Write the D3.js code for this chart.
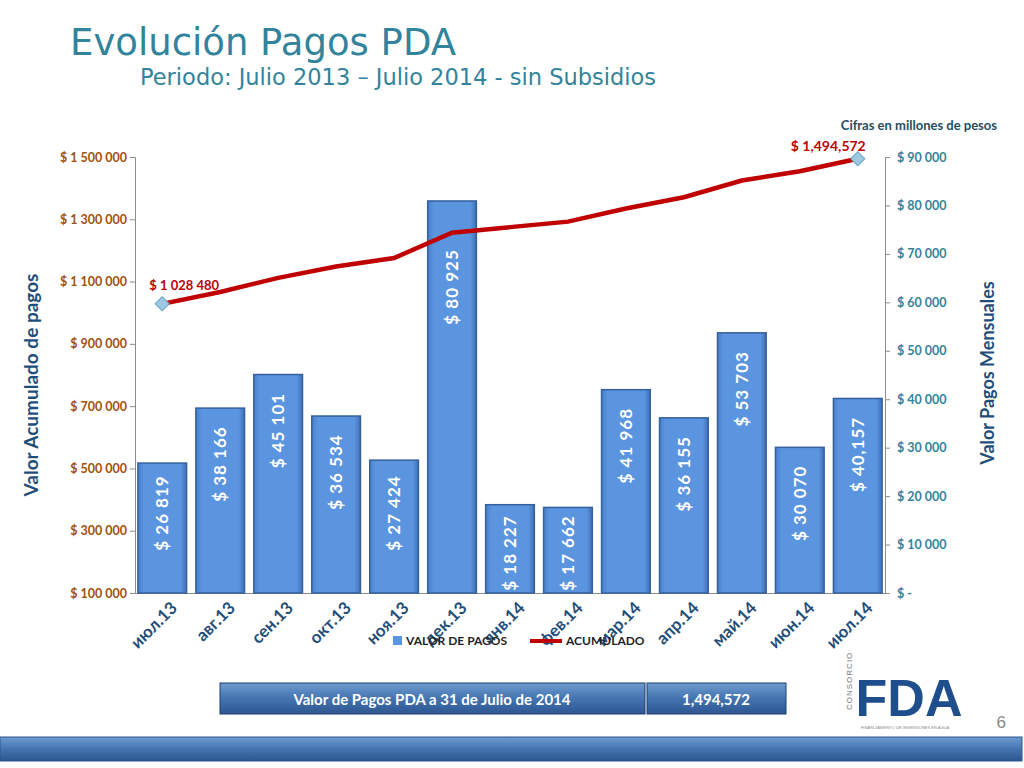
<!DOCTYPE html>
<html>
<head>
<meta charset="utf-8">
<script src="https://cdn.jsdelivr.net/npm/d3@7"></script>
<style>
  body { margin: 0; background: #fff; }
  svg { display: block; }
</style>
</head>
<body>
<div id="chart"></div>
<script>
// Data
const months = ["июл.13", "авг.13", "сен.13", "окт.13", "ноя.13", "дек.13", "янв.14",
  "фев.14", "мар.14", "апр.14", "май.14", "июн.14", "июл.14"];
const pagos = [26819, 38166, 45101, 36534, 27424, 80925, 18227, 17662, 41968, 36155, 53703, 30070, 40157];
const pagosLabels = ["$ 26 819", "$ 38 166", "$ 45 101", "$ 36 534", "$ 27 424", "$ 80 925", "$ 18 227",
  "$ 17 662", "$ 41 968", "$ 36 155", "$ 53 703", "$ 30 070", "$ 40,157"];
const acumulado = [1028480, 1066646, 1111747, 1148281, 1175705, 1256630, 1274857,
  1292519, 1334487, 1370642, 1424345, 1454415, 1494572];
const leftTicks = [100000, 300000, 500000, 700000, 900000, 1100000, 1300000, 1500000];
const rightTicks = [0, 10000, 20000, 30000, 40000, 50000, 60000, 70000, 80000, 90000];

const width = 1024, height = 768;
const mLeft = 135, mRight = 885, mTop = 157, mBottom = 593;

const svg = d3.select("#chart").append("svg")
    .attr("width", width).attr("height", height);

const defs = svg.append("defs");
const barGrad = defs.append("linearGradient").attr("id", "barGrad");
barGrad.append("stop").attr("offset", "0%").attr("stop-color", "#4a7fc8");
barGrad.append("stop").attr("offset", "12%").attr("stop-color", "#5b95e0");
barGrad.append("stop").attr("offset", "88%").attr("stop-color", "#5b95e0");
barGrad.append("stop").attr("offset", "100%").attr("stop-color", "#3f70b5");
const boxGrad = defs.append("linearGradient").attr("id", "boxGrad").attr("x2", 0).attr("y2", 1);
boxGrad.append("stop").attr("offset", "0%").attr("stop-color", "#6f9bd0");
boxGrad.append("stop").attr("offset", "50%").attr("stop-color", "#4474b0");
boxGrad.append("stop").attr("offset", "100%").attr("stop-color", "#2d5690");

// Title
svg.append("text").attr("x", 70).attr("y", 55)
    .attr("font-family", "DejaVu Sans").attr("font-size", 37).attr("fill", "#31849b")
    .text("Evolución Pagos PDA");
svg.append("text").attr("x", 140).attr("y", 85)
    .attr("font-family", "DejaVu Sans").attr("font-size", 22.5).attr("fill", "#31849b")
    .text("Periodo: Julio 2013 – Julio 2014 - sin Subsidios");

// Scales
const x = d3.scaleBand(months, [mLeft, mRight]).paddingInner(0.16).paddingOuter(0.05);
const yL = d3.scaleLinear([100000, 1500000], [mBottom, mTop]);
const yR = d3.scaleLinear([0, 90000], [mBottom, mTop]);

const fmtSpace = v => "$ " + d3.format(",")(v).replace(/,/g, " ");

// Axes
svg.append("g").attr("transform", `translate(${mLeft},0)`)
    .call(d3.axisLeft(yL).tickValues(leftTicks).tickSize(5).tickFormat(fmtSpace))
    .call(g => g.selectAll("text").attr("fill", "#a0520f").attr("font-weight", "bold"))
    .call(g => g.attr("font-family", "Lato").attr("font-size", 12.5));
svg.append("g").attr("transform", `translate(${mRight},0)`)
    .call(d3.axisRight(yR).tickValues(rightTicks).tickSize(5)
        .tickFormat(v => v === 0 ? "$ -" : fmtSpace(v)))
    .call(g => g.selectAll("text").attr("fill", "#31849b").attr("font-weight", "bold").attr("x", 12))
    .call(g => g.attr("font-family", "Lato").attr("font-size", 12.5));
svg.append("g").attr("transform", `translate(0,${mBottom})`)
    .call(d3.axisBottom(x).tickSize(0).tickFormat(""))
    .call(g => g.attr("font-family", "Lato"));
svg.selectAll(".domain, .tick line").attr("stroke", "#8c8c8c");

// Bars
svg.append("g").selectAll("rect").data(pagos).join("rect")
    .attr("x", (d, i) => x(months[i]))
    .attr("y", d => yR(d))
    .attr("width", x.bandwidth())
    .attr("height", d => mBottom - yR(d))
    .attr("fill", "url(#barGrad)")
    .attr("stroke", "#35609e").attr("stroke-width", 1.5);

// Bar labels
svg.append("g").selectAll("text").data(pagos).join("text")
    .attr("transform", (d, i) => {
      const cx = x(months[i]) + x.bandwidth() / 2;
      let cy = yR(d) + (d > 60000 ? 86 : 56);
      if (d < 20000) cy = mBottom - 40;
      else if (d < 29000) cy = mBottom - 80;
      return `translate(${cx + 6},${cy}) rotate(-90)`;
    })
    .attr("text-anchor", "middle")
    .attr("font-family", "Lato").attr("font-weight", "bold").attr("font-size", 17)
    .attr("fill", "#fff").attr("letter-spacing", 1)
    .text((d, i) => pagosLabels[i]);

// x labels
svg.append("g").selectAll("text").data(months).join("text")
    .attr("transform", d => `translate(${x(d) + x.bandwidth() / 2 + 16},${mBottom + 16}) rotate(-45)`)
    .attr("text-anchor", "end")
    .attr("font-family", "Lato").attr("font-weight", "bold").attr("font-size", 17)
    .attr("fill", "#1f4e79")
    .text(d => d);

// Accumulated line
const line = d3.line().x((d, i) => x(months[i]) + x.bandwidth() / 2).y(d => yL(d));
svg.append("path").datum(acumulado).attr("d", line)
    .attr("fill", "none").attr("stroke", "#c00000").attr("stroke-width", 4.5);
[0, acumulado.length - 1].forEach(i => {
  svg.append("rect")
      .attr("x", -5).attr("y", -5).attr("width", 10).attr("height", 10)
      .attr("transform", `translate(${x(months[i]) + x.bandwidth() / 2},${yL(acumulado[i])}) rotate(45)`)
      .attr("fill", "#9cc8e0").attr("stroke", "#6aa2c4");
});
svg.append("text").attr("x", x(months[0]) + x.bandwidth() / 2 - 13).attr("y", yL(acumulado[0]) - 14)
    .attr("font-family", "Lato").attr("font-weight", "bold").attr("font-size", 13).attr("fill", "#c00000")
    .text("$ 1 028 480");
svg.append("text").attr("x", x(months[12]) + x.bandwidth() / 2 + 8).attr("y", yL(acumulado[12]) - 8)
    .attr("text-anchor", "end")
    .attr("font-family", "Lato").attr("font-weight", "bold").attr("font-size", 14).attr("fill", "#c00000")
    .text("$ 1,494,572");

// Axis titles
svg.append("text").attr("transform", "translate(38,385) rotate(-90)").attr("text-anchor", "middle")
    .attr("font-family", "Lato").attr("font-weight", "bold").attr("font-size", 19).attr("fill", "#1f4e79")
    .text("Valor Acumulado de pagos");
svg.append("text").attr("transform", "translate(994,373) rotate(-90)").attr("text-anchor", "middle")
    .attr("font-family", "Lato").attr("font-weight", "bold").attr("font-size", 18).attr("fill", "#1f4e79")
    .text("Valor Pagos Mensuales");
svg.append("text").attr("x", 997).attr("y", 130).attr("text-anchor", "end")
    .attr("font-family", "Lato").attr("font-weight", "bold").attr("font-size", 13).attr("fill", "#1f4e5f")
    .text("Cifras en millones de pesos");

// Legend
const lg = svg.append("g").attr("font-family", "Lato").attr("font-weight", "bold")
    .attr("font-size", 12).attr("fill", "#1f1f1f");
lg.append("rect").attr("x", 393).attr("y", 636).attr("width", 9).attr("height", 9).attr("fill", "#5b95e0");
lg.append("text").attr("x", 406).attr("y", 645).text("VALOR DE PAGOS");
lg.append("line").attr("x1", 530).attr("x2", 562).attr("y1", 641).attr("y2", 641)
    .attr("stroke", "#c00000").attr("stroke-width", 4);
lg.append("text").attr("x", 566).attr("y", 645).text("ACUMULADO");

// Summary box
svg.append("rect").attr("x", 220).attr("y", 683).attr("width", 425).attr("height", 31).attr("fill", "url(#boxGrad)")
    .attr("stroke", "#1f3f6e");
svg.append("rect").attr("x", 647).attr("y", 683).attr("width", 139).attr("height", 31).attr("fill", "url(#boxGrad)")
    .attr("stroke", "#1f3f6e");
svg.append("text").attr("x", 432).attr("y", 705).attr("text-anchor", "middle")
    .attr("font-family", "Lato").attr("font-weight", "bold").attr("font-size", 15).attr("fill", "#fff")
    .text("Valor de Pagos PDA a 31 de Julio de 2014");
svg.append("text").attr("x", 716).attr("y", 705).attr("text-anchor", "middle")
    .attr("font-family", "Lato").attr("font-weight", "bold").attr("font-size", 15).attr("fill", "#fff")
    .text("1,494,572");

// Logo (approximate)
svg.append("text").attr("x", 909).attr("y", 716).attr("text-anchor", "middle")
    .attr("font-family", "Liberation Sans").attr("font-weight", "bold").attr("font-size", 52).attr("fill", "#1f4e8c")
    .text("FDA");
svg.append("text").attr("transform", "translate(852,710) rotate(-90)")
    .attr("font-family", "Liberation Sans").attr("font-size", 8).attr("fill", "#777").attr("letter-spacing", 1)
    .text("CONSORCIO");
svg.append("text").attr("x", 905).attr("y", 729).attr("text-anchor", "middle")
    .attr("font-family", "Liberation Sans").attr("font-size", 4).attr("fill", "#888")
    .text("FINANCIAMIENTO DE INVERSIONES EN AGUA");
svg.append("text").attr("x", 1006).attr("y", 728).attr("text-anchor", "end")
    .attr("font-family", "Liberation Sans").attr("font-size", 17).attr("fill", "#888").text("6");

// Bottom strip
svg.append("rect").attr("x", 0).attr("y", 737).attr("width", 1022).attr("height", 24)
    .attr("fill", "url(#boxGrad)").attr("stroke", "#2d5690");
</script>
</body>
</html>
